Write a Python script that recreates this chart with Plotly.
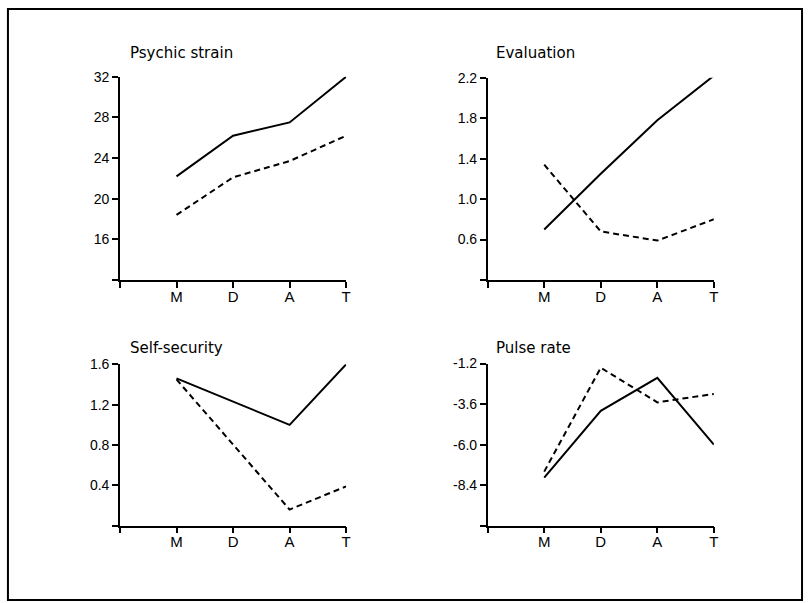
import plotly.graph_objects as go

phases = ["M", "D", "A", "T"]
xpos = [1, 2, 3, 4]

psychic_solid = [22.2, 26.2, 27.5, 32.0]
psychic_dashed = [18.4, 22.1, 23.7, 26.2]
psychic_ticks = [12, 16, 20, 24, 28, 32]
psychic_text = ["", "16", "20", "24", "28", "32"]

eval_solid = [0.70, 1.25, 1.78, 2.22]
eval_dashed = [1.34, 0.68, 0.59, 0.80]
eval_ticks = [0.2, 0.6, 1.0, 1.4, 1.8, 2.2]
eval_text = ["", "0.6", "1.0", "1.4", "1.8", "2.2"]

self_solid = [1.46, 1.23, 1.00, 1.60]
self_dashed = [1.45, 0.80, 0.16, 0.39]
self_ticks = [0.0, 0.4, 0.8, 1.2, 1.6]
self_text = ["", "0.4", "0.8", "1.2", "1.6"]

pulse_solid = [-7.95, -4.0, -2.05, -6.0]
pulse_dashed = [-7.6, -1.45, -3.5, -3.0]
pulse_ticks = [-10.8, -8.4, -6.0, -3.6, -1.2]
pulse_text = ["", "-8.4", "-6.0", "-3.6", "-1.2"]

titles = ["Psychic strain", "Evaluation", "Self-security", "Pulse rate"]

W, H = 811, 603
TICKFONT = "Liberation Sans"
TITLEFONT = "DejaVu Sans"


def ypix(y):
    # compensate the vertical offset/scale observed in the photographed page
    return max(1.0, (y - 8.0) * 603.0 / 595.0)


panels = [
    dict(solid=psychic_solid, dashed=psychic_dashed, ticks=psychic_ticks, text=psychic_text,
         xd=(120.7, 348.3), yd=(76.7, 280.0), title_xy=(129, 53)),
    dict(solid=eval_solid, dashed=eval_dashed, ticks=eval_ticks, text=eval_text,
         xd=(490.7, 718.3), yd=(77.7, 280.0), title_xy=(497, 53)),
    dict(solid=self_solid, dashed=self_dashed, ticks=self_ticks, text=self_text,
         xd=(120.7, 348.3), yd=(364.3, 525.7), title_xy=(129, 348)),
    dict(solid=pulse_solid, dashed=pulse_dashed, ticks=pulse_ticks, text=pulse_text,
         xd=(490.7, 718.3), yd=(363.5, 525.7), title_xy=(497, 348)),
]

fig = go.Figure()
layout = dict(
    width=W, height=H, autosize=False,
    margin=dict(l=0, r=0, t=0, b=0),
    paper_bgcolor="white", plot_bgcolor="white",
    showlegend=False,
    font=dict(family=TICKFONT, size=14, color="black"),
)
annotations = []
for i, p in enumerate(panels):
    n = "" if i == 0 else str(i + 1)
    xa = "x" + n
    ya = "y" + n
    fig.add_trace(go.Scatter(x=xpos, y=p["solid"], mode="lines",
                             line=dict(color="black", width=2), xaxis=xa, yaxis=ya))
    fig.add_trace(go.Scatter(x=xpos, y=p["dashed"], mode="lines",
                             line=dict(color="black", width=2, dash="6px,4px"), xaxis=xa, yaxis=ya))
    layout["xaxis" + n] = dict(
        domain=[p["xd"][0] / W, p["xd"][1] / W], range=[0, 4], anchor=ya,
        showgrid=False, zeroline=False, showline=True, linecolor="black", linewidth=1.5,
        ticks="outside", ticklen=6, tickwidth=1.5, tickcolor="black",
        ticklabelstandoff=-4,
        tickmode="array", tickvals=[0] + xpos, ticktext=[""] + phases,
        tickfont=dict(family=TICKFONT, size=15),
    )
    layout["yaxis" + n] = dict(
        domain=[1 - ypix(p["yd"][1]) / H, 1 - ypix(p["yd"][0]) / H],
        range=[p["ticks"][0], p["ticks"][-1]], anchor=xa,
        showgrid=False, zeroline=False, showline=True, linecolor="black", linewidth=1.5,
        ticks="outside", ticklen=6, tickwidth=1.5, tickcolor="black",
        tickmode="array", tickvals=p["ticks"], ticktext=p["text"],
        tickfont=dict(family=TICKFONT, size=14),
    )
    annotations.append(dict(
        text=titles[i], xref="paper", yref="paper",
        x=p["title_xy"][0] / W, y=1 - ypix(p["title_xy"][1]) / H,
        xanchor="left", yanchor="middle", showarrow=False,
        font=dict(family=TITLEFONT, size=15, color="black"),
    ))
layout["annotations"] = annotations
layout["shapes"] = [dict(type="rect", xref="paper", yref="paper",
                         x0=8 / W, x1=807 / W, y0=1 - ypix(600) / H, y1=1 - ypix(5) / H,
                         line=dict(color="black", width=2))]
fig.update_layout(**layout)

pin = ("var gd=document.getElementById('{plot_id}');"
       "var de=document.documentElement, b=document.body;"
       "de.style.margin='0';de.style.padding='0';de.style.overflow='hidden';"
       "b.style.margin='0';b.style.padding='0';b.style.overflow='hidden';"
       "b.style.fontSize='0px';b.style.lineHeight='0px';"
       "gd.style.position='fixed';gd.style.left='0px';gd.style.top='0px';"
       "gd.style.width='811px';gd.style.height='603px';window.scrollTo(0,0);")
fig.write_html("out.html", post_script=pin,
               config={"displayModeBar": False, "responsive": False})
